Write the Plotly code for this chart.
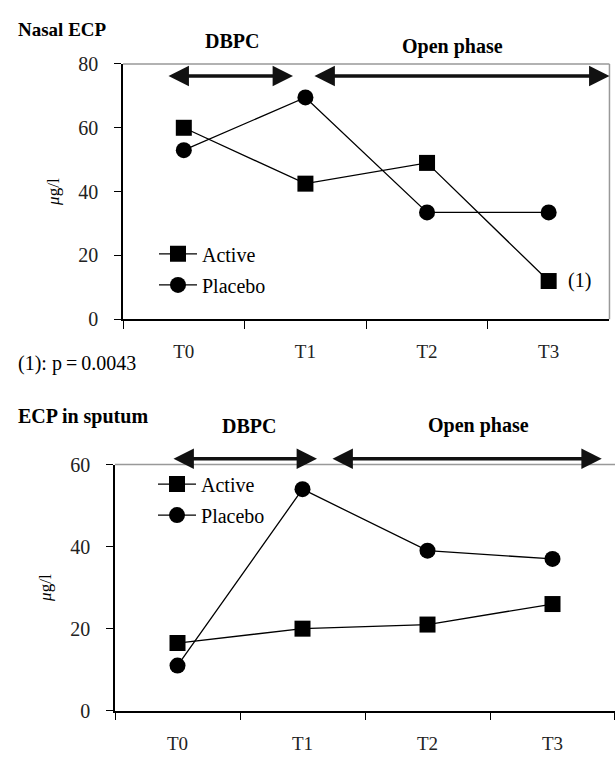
import plotly.graph_objects as go

times = ["T0", "T1", "T2", "T3"]
nasal_active = [60, 42.5, 49, 12]
nasal_placebo = [53, 69.5, 33.5, 33.5]
sputum_active = [16.5, 20, 21, 26]
sputum_placebo = [11, 54, 39, 37]

FONT = "Liberation Serif"
H = 763
fig = go.Figure()

def add_series(xa, ya, active, placebo, leg_a, leg_p):
    fig.add_trace(go.Scatter(x=times, y=active, mode="lines+markers", name="Active",
                             line=dict(color="black", width=1.3),
                             marker=dict(symbol="square", size=16, color="black"),
                             xaxis=xa, yaxis=ya, legend=leg_a, cliponaxis=False,
                             showlegend=True))
    fig.add_trace(go.Scatter(x=times, y=placebo, mode="lines+markers", name="Placebo",
                             line=dict(color="black", width=1.3),
                             marker=dict(symbol="circle", size=16, color="black"),
                             xaxis=xa, yaxis=ya, legend=leg_p, cliponaxis=False,
                             showlegend=True))

add_series("x", "y", nasal_active, nasal_placebo, "legend", "legend2")
add_series("x2", "y2", sputum_active, sputum_placebo, "legend3", "legend4")

def xaxis_cfg(domain, anchor, standoff):
    return dict(domain=domain, anchor=anchor, type="category", range=[-0.5, 3.5],
                tickson="boundaries", ticks="outside", ticklen=8, ticklabelstandoff=standoff,
                showline=True, showgrid=False, zeroline=False, linecolor="black", linewidth=1.5,
                tickcolor="black", tickfont=dict(family=FONT, size=19, color="#222"))

def yaxis_cfg(domain, anchor, rng):
    return dict(domain=domain, anchor=anchor, range=rng, dtick=20, ticks="outside", ticklen=7,
                ticklabelstandoff=12, showline=True, showgrid=False, zeroline=False,
                linecolor="black", linewidth=1.5, tickcolor="black",
                tickfont=dict(family=FONT, size=20, color="#222"),
                title=dict(text="<i>μ</i>g/l", font=dict(family=FONT, size=17), standoff=14))

def leg(x, ytop):
    return dict(x=x, y=1 - ytop / H, xanchor="left", yanchor="top", bgcolor="rgba(0,0,0,0)",
                font=dict(family=FONT, size=20), itemwidth=38, visible=True)

fig.update_layout(
    width=615, height=H, margin=dict(l=0, r=0, t=0, b=0),
    plot_bgcolor="white", paper_bgcolor="white", showlegend=True,
    font=dict(family=FONT, color="black"),
    xaxis=xaxis_cfg([0.2, 0.991], "y", 14),
    yaxis=yaxis_cfg([1 - 317.5 / H, 1 - 54.5 / H], "x", [0, 80]),
    xaxis2=xaxis_cfg([0.187, 1.0], "y2", 15),
    yaxis2=yaxis_cfg([1 - 720.5 / H, 1 - 467 / H], "x2", [0, 60]),
    legend=leg(0.2504, 230),
    legend2=leg(0.2504, 262),
    legend3=leg(0.2488, 467),
    legend4=leg(0.2488, 499),
)

# gray frame (top/right)
fig.add_shape(type="line", xref="x domain", yref="y domain", x0=0, x1=1, y0=1, y1=1,
              line=dict(color="#999", width=1.5), layer="below")
fig.add_shape(type="line", xref="x domain", yref="y domain", x0=1, x1=1, y0=0, y1=1,
              line=dict(color="#999", width=1.5), layer="below")
fig.add_shape(type="line", xref="x2 domain", yref="y2 domain", x0=0, x1=1, y0=1, y1=1,
              line=dict(color="#999", width=1.5), layer="below")

# phase arrows (x in category units, y as fraction of plot height)
arrows = [
    ("x", "y", -0.138, 0.898, 0.9525),
    ("x", "y", 1.062, 3.5, 0.9525),
    ("x2", "y2", -0.044, 1.116, 1.0237),
    ("x2", "y2", 1.228, 3.394, 1.0237),
]
for xr, yr, x0, x1, yv in arrows:
    fig.add_annotation(x=x1, y=yv, ax=x0, ay=0, xref=xr, yref=yr + " domain", axref=xr,
                       ayref="pixel", showarrow=True, arrowhead=2, startarrowhead=2,
                       arrowside="end+start", arrowsize=1.2, startarrowsize=1.2,
                       arrowwidth=3.4, arrowcolor="#111", text="")

def ptext(txt, x, y, size=20, bold=False, xanchor="left"):
    fig.add_annotation(text=f"<b>{txt}</b>" if bold else txt, x=x / 615, y=1 - y / H,
                       xref="paper", yref="paper", showarrow=False, xanchor=xanchor,
                       yanchor="middle", font=dict(family=FONT, size=size, color="black"))

ptext("Nasal ECP", 16, 19, 19, True)
ptext("DBPC", 232, 31, 20, True, "center")
ptext("Open phase", 452, 37, 20, True, "center")
ptext("(1)", 566, 277, 20)
ptext("(1): p\u2009=\u20090.0043", 16, 363, 20)
ptext("ECP in sputum", 16, 418, 20, True)
ptext("DBPC", 249, 427, 20, True, "center")
ptext("Open phase", 478, 427, 20, True, "center")

fig.write_html("out.html")
